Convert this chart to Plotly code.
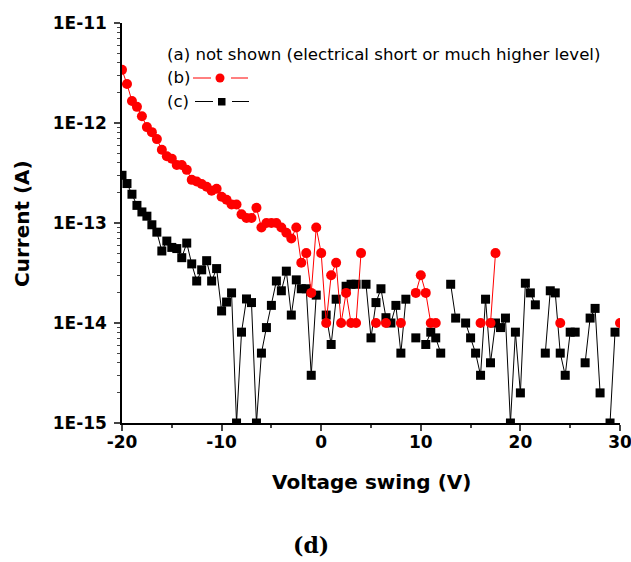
import plotly.graph_objects as go

# Voltage sweep grid (V), 0.5 V steps from -20 to 30
voltage = [v / 2 for v in range(-40, 61)]

# Leakage current (A) of device (b); None = no reading
current_b = [
    3.4e-12, 2.45e-12, 1.66e-12, 1.45e-12, 1.17e-12, 9.1e-13, 8.1e-13, 6.9e-13, 5.4e-13, 4.65e-13,
    4.4e-13, 3.8e-13, 3.8e-13, 3.4e-13, 2.7e-13, 2.6e-13, 2.45e-13, 2.3e-13, 2.1e-13, 2.2e-13,
    1.83e-13, 1.71e-13, 1.53e-13, 1.53e-13, 1.22e-13, 1.12e-13, 1.12e-13, 1.42e-13, 9e-14, 1e-13,
    1e-13, 1e-13, 9e-14, 8e-14, 7e-14, 9e-14, 4e-14, 5e-14, 2e-14, 9e-14,
    5e-14, 1e-14, 3e-14, 4e-14, 1e-14, 2e-14, 1e-14, 1e-14, 5e-14, None,
    None, 1e-14, None, 1e-14, None, None, 1e-14, None, None, 2e-14,
    3e-14, 2e-14, 1e-14, 1e-14, None, None, None, None, None, None,
    None, None, 1e-14, None, 1e-14, 5e-14, None, None, None, None,
    None, None, None, None, None, None, None, None, 1e-14, None,
    None, None, None, None, None, None, None, None, None, None,
    1e-14,
]

# Leakage current (A) of device (c); None = no reading
current_c = [
    3.0e-13, 2.48e-13, 1.94e-13, 1.5e-13, 1.29e-13, 1.17e-13, 9.6e-14, 8.1e-14, 5.25e-14, 6.6e-14,
    5.7e-14, 5.55e-14, 4.5e-14, 6.3e-14, 3.9e-14, 2.63e-14, 3.4e-14, 4.2e-14, 2.63e-14, 3.5e-14,
    1.32e-14, 1.62e-14, 2.0e-14, 1e-15, 8.1e-15, 1.74e-14, 1.6e-14, 1e-15, 5e-15, 9e-15,
    1.5e-14, 2.63e-14, 2.1e-14, 3.3e-14, 1.2e-14, 2.7e-14, 2.2e-14, 2.2e-14, 3e-15, 1.9e-14,
    None, 1.2e-14, 6.1e-15, 1.73e-14, None, 2.33e-14, 2.44e-14, 2.44e-14, None, 2.44e-14,
    7.1e-15, 1.6e-14, 2.2e-14, 1.13e-14, 1e-14, 1.5e-14, 5e-15, 1.73e-14, None, 7.1e-15,
    None, 6.1e-15, 8.1e-15, 7.1e-15, 5e-15, None, 2.44e-14, 1.12e-14, None, 1e-14,
    7.1e-15, 5e-15, 3e-15, 1.73e-14, 4e-15, 1e-14, 9e-15, 1.12e-14, 1e-15, 8.1e-15,
    2e-15, 2.5e-14, 2e-14, 1.52e-14, None, 5e-15, 2.1e-14, 2e-14, 5e-15, 3e-15,
    8.1e-15, 8.1e-15, None, 4e-15, 1.12e-14, 1.4e-14, 2e-15, None, 1e-15, 8.1e-15,
    None,
]

x_ticks = [-20, -10, 0, 10, 20, 30]
x_tick_text = ["-20", "-10", "0", "10", "20", "30"]
y_tick_vals = [1e-15, 1e-14, 1e-13, 1e-12, 1e-11]
y_tick_text = ["1E-15", "1E-14", "1E-13", "1E-12", "1E-11"]

FONT = "'DejaVu Sans', sans-serif"

# Plot-area geometry in pixels
L, R, T, B = 122, 620, 23, 423
W, H = 631, 562


def px_x(p):
    return (p - L) / (R - L)


def px_y(p):
    return 1 - (p - T) / (B - T)


fig = go.Figure()

fig.add_trace(go.Scatter(
    x=voltage, y=current_c, mode="lines+markers", name="(c)",
    line=dict(color="black", width=1),
    marker=dict(symbol="square", size=9, color="black"),
    connectgaps=False, showlegend=False,
))
fig.add_trace(go.Scatter(
    x=voltage, y=current_b, mode="lines+markers", name="(b)",
    line=dict(color="#ff0000", width=1),
    marker=dict(symbol="circle", size=10, color="#ff0000"),
    connectgaps=False, showlegend=False,
))

axis_font = dict(family=FONT, size=17, color="black", weight="bold")
title_font = dict(family=FONT, size=20, color="black", weight="bold")

fig.update_layout(
    width=W, height=H,
    margin=dict(l=L, r=W - R, t=T, b=H - B, autoexpand=False),
    paper_bgcolor="white", plot_bgcolor="white",
    font=dict(family=FONT, color="black"),
    showlegend=False,
    xaxis=dict(
        range=[-20, 30], tickvals=x_ticks, ticktext=x_tick_text,
        ticks="outside", ticklen=6, tickwidth=1.5,
        showline=True, linecolor="black", linewidth=1.5, showgrid=False, zeroline=False,
        tickfont=axis_font, automargin=False, ticklabelstandoff=-3,
        ticklabeloverflow="allow",
        minor=dict(ticks="outside", ticklen=3, dtick=5, tick0=0, showgrid=False, tickwidth=1.5),
    ),
    yaxis=dict(
        type="log", range=[-15, -11], tickvals=y_tick_vals, ticktext=y_tick_text,
        ticks="outside", ticklen=6, tickwidth=1.5,
        showline=True, linecolor="black", linewidth=1.5, showgrid=False, zeroline=False,
        tickfont=axis_font, automargin=False, ticklabelstandoff=4,
        ticklabeloverflow="allow",
        minor=dict(ticks="outside", ticklen=3, dtick="D1", showgrid=False, tickwidth=1),
    ),
    yaxis2=dict(
        type="log", range=[-15, -11], overlaying="y", side="right",
        tickvals=y_tick_vals, ticks="inside", ticklen=7, tickwidth=1.5,
        showticklabels=False, showline=True, linecolor="black", linewidth=1.5,
        showgrid=False, zeroline=False, automargin=False,
        minor=dict(ticks="inside", ticklen=3, dtick="D1", showgrid=False, tickwidth=1),
    ),
)

# Axis titles
fig.add_annotation(xref="paper", yref="paper", x=px_x(371), y=px_y(482),
                   text="Voltage swing (V)", showarrow=False,
                   xanchor="center", yanchor="middle", font=title_font)
fig.add_annotation(xref="paper", yref="paper", x=px_x(22), y=px_y(224),
                   text="Current (A)", showarrow=False, textangle=-90,
                   xanchor="center", yanchor="middle", font=title_font)

# Legend block: text and sample symbols
legend_font = dict(family=FONT, size=16.6, color="black")
fig.add_annotation(xref="paper", yref="paper", x=px_x(165), y=px_y(55),
                   text="(a) not shown (electrical short or much higher level)",
                   showarrow=False, xanchor="left", yanchor="middle", font=legend_font)
fig.add_annotation(xref="paper", yref="paper", x=px_x(165), y=px_y(78),
                   text="(b)", showarrow=False, xanchor="left", yanchor="middle", font=legend_font)
fig.add_annotation(xref="paper", yref="paper", x=px_x(165), y=px_y(101.5),
                   text="(c)", showarrow=False, xanchor="left", yanchor="middle", font=legend_font)

for (x0, x1) in [(193, 211), (231, 248)]:
    fig.add_shape(type="line", xref="paper", yref="paper", x0=px_x(x0), x1=px_x(x1),
                  y0=px_y(78), y1=px_y(78), line=dict(color="#ff0000", width=1))
fig.add_shape(type="circle", xref="paper", yref="paper", x0=px_x(215.5), x1=px_x(224.5),
              y0=px_y(82.5), y1=px_y(73.5), fillcolor="#ff0000", line=dict(color="#ff0000", width=0))
for (x0, x1) in [(195, 213), (232, 249)]:
    fig.add_shape(type="line", xref="paper", yref="paper", x0=px_x(x0), x1=px_x(x1),
                  y0=px_y(101.5), y1=px_y(101.5), line=dict(color="black", width=1))
fig.add_shape(type="rect", xref="paper", yref="paper", x0=px_x(218), x1=px_x(225.5),
              y0=px_y(105.5), y1=px_y(98), fillcolor="black", line=dict(color="black", width=0))

# Panel label
fig.add_annotation(xref="paper", yref="paper", x=px_x(311), y=px_y(545),
                   text="(d)", showarrow=False, xanchor="center", yanchor="middle",
                   font=dict(family="'DejaVu Serif', serif", size=22,
                             color="black", weight="bold"))

fig.write_html("out.html")
